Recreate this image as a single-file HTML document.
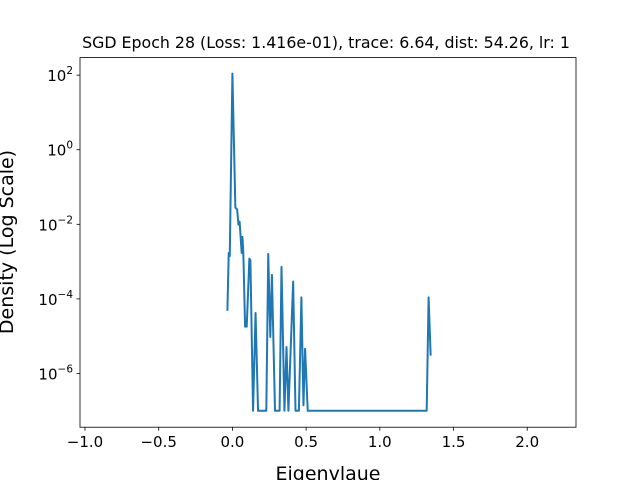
<!DOCTYPE html>
<html><head><meta charset="utf-8"><style>
body{margin:0;background:#fff;}
svg text{font-family:"DejaVu Sans","Liberation Sans",sans-serif;fill:#000;}
</style></head><body>
<svg id="chart" width="640" height="480" xmlns="http://www.w3.org/2000/svg">
<rect width="640" height="480" fill="#fff"/>
<text x="326" y="48" font-size="15.8" text-anchor="middle">SGD Epoch 28 (Loss: 1.416e-01), trace: 6.64, dist: 54.26, lr: 1</text>
<g id="xticks"></g>
<g id="yticks"></g>
<path id="line" fill="none" stroke="#1f77b4" stroke-width="2" stroke-linejoin="round"/>
<rect x="80" y="57.6" width="496" height="369.6" fill="none" stroke="#000" stroke-width="0.8"/>
<text x="328" y="480" font-size="19" text-anchor="middle">Eigenvlaue</text>
<text transform="translate(13,242) rotate(-90)" font-size="19" text-anchor="middle">Density (Log Scale)</text>
</svg>
<script>
const xValues=[-0.034,-0.025,-0.018,0,0.020,0.032,0.041,0.049,0.063,0.068,0.074,0.086,0.097,0.106,0.115,0.122,0.140,0.157,0.174,0.230,0.243,0.257,0.268,0.289,0.320,0.333,0.353,0.367,0.380,0.412,0.428,0.451,0.468,0.482,0.493,0.511,1.318,1.331,1.345];
const densityValues=[4.8e-5,1.7e-3,1.4e-3,110,0.028,0.025,0.0098,0.0117,0.0017,0.0046,0.0017,1.8e-5,1.8e-5,1.45e-4,1.2e-3,1.1e-3,1e-7,4.2e-5,1e-7,1e-7,1.6e-3,9.5e-6,4.4e-4,1e-7,1e-7,7.2e-4,1e-7,5.1e-6,1e-7,2.9e-4,1e-7,1e-7,1.1e-4,1.4e-7,4.6e-6,1e-7,1e-7,1.1e-4,3e-6];
const xTicks=[-1.0,-0.5,0.0,0.5,1.0,1.5,2.0];
const xTickLabels=["−1.0","−0.5","0.0","0.5","1.0","1.5","2.0"];
const yTickExps=[2,0,-2,-4,-6];
const ns="http://www.w3.org/2000/svg";
const X0=80,X1=576,Y0=57.6,Y1=427.2,xmin=-1.034,xmax=2.331,lmin=-7.44,lmax=2.47;
function sx(v){return X0+(v-xmin)/(xmax-xmin)*(X1-X0);}
function sy(v){return Y1-(Math.log10(v)-lmin)/(lmax-lmin)*(Y1-Y0);}
let d="";
xValues.forEach((x,i)=>{d+=(i?"L":"M")+sx(x).toFixed(2)+","+sy(densityValues[i]).toFixed(2);});
document.getElementById("line").setAttribute("d",d);
const xg=document.getElementById("xticks");
xTicks.forEach((t,i)=>{
 const l=document.createElementNS(ns,"line");
 
 
 l.setAttribute("x1",sx(t));l.setAttribute("x2",sx(t));l.setAttribute("y1",Y1);l.setAttribute("y2",Y1+3.5);l.setAttribute("stroke","#000");l.setAttribute("stroke-width","0.8");
 xg.appendChild(l);
 const tx=document.createElementNS(ns,"text");
 
 
 tx.setAttribute("x",sx(t));tx.setAttribute("y",Y1+20);tx.setAttribute("font-size","15");tx.setAttribute("text-anchor","middle");
 tx.textContent=xTickLabels[i];xg.appendChild(tx);
});
const yg=document.getElementById("yticks");
yTickExps.forEach(e=>{
 const y=sy(Math.pow(10,e));
 const l=document.createElementNS(ns,"line");
 
 
 l.setAttribute("x1",X0-3.5);l.setAttribute("x2",X0);l.setAttribute("y1",y);l.setAttribute("y2",y);l.setAttribute("stroke","#000");l.setAttribute("stroke-width","0.8");
 yg.appendChild(l);
 const tx=document.createElementNS(ns,"text");
 
 
 tx.setAttribute("x",X0-7);tx.setAttribute("y",y+6);tx.setAttribute("font-size","15");tx.setAttribute("text-anchor","end");
 const a=document.createElementNS(ns,"tspan");a.textContent="10";tx.appendChild(a);
 const b=document.createElementNS(ns,"tspan");b.setAttribute("font-size","10.5");b.setAttribute("dy","-7");b.textContent=(e<0?"−":"")+Math.abs(e);tx.appendChild(b);
 yg.appendChild(tx);
});
</script>
</body></html>
